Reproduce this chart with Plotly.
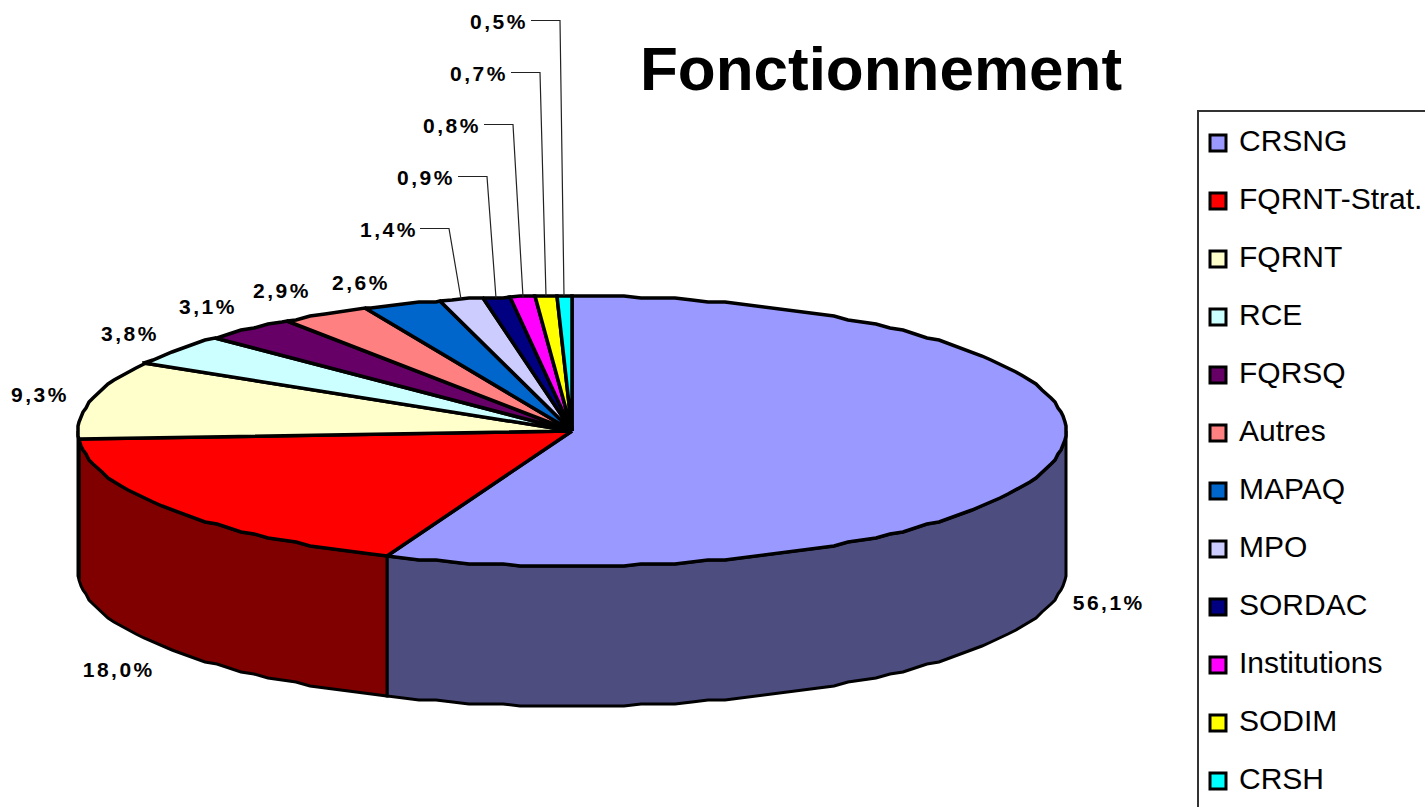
import math
import plotly.graph_objects as go

categories = ["CRSNG", "FQRNT-Strat.", "FQRNT", "RCE", "FQRSQ", "Autres", "MAPAQ",
              "MPO", "SORDAC", "Institutions", "SODIM", "CRSH"]
values = [56.1, 18.0, 9.3, 3.8, 3.1, 2.9, 2.6, 1.4, 0.9, 0.8, 0.7, 0.5]
top_colors = ["#9999FF", "#FF0000", "#FFFFCC", "#CCFFFF", "#660066", "#FF8080", "#0066CC",
              "#CCCCFF", "#000080", "#FF00FF", "#FFFF00", "#00FFFF"]
wall_colors = ["#4D4D80", "#800000", "#808066", "#668080", "#330033", "#804040", "#003366",
               "#666680", "#000040", "#800080", "#808000", "#008080"]

# Layout constants (pixels)
W, H = 1425, 807
CX, CY, RX, RY, DEPTH = 572, 431, 494, 135, 140
STEP_DEG = 2
SNAP = 2
label_pos = [(1109, 602), (119, 669), (40, 394), (130, 333), (208, 306), (282, 290),
             (361, 282), (389, 229), (426, 177), (452, 125), (479, 73), (499, 21)]
leader_elbow = {7: (420, 449, 228.5), 8: (458, 487, 176.5), 9: (484, 513, 124.5),
                10: (511, 540, 72.5), 11: (531, 560, 20.5)}
LEG_TOP, LEG_GAP = 143, 58


def rim(deg, dy=0, snap=1):
    t = math.radians(deg)
    y = CY - RY * math.cos(t)
    return (round(CX + RX * math.sin(t)), round(y / snap) * snap + dy)


def arc(a0, a1, dy=0):
    """Rim points on a shared angular grid, so neighbouring faces trace the same edge."""
    lo, hi = min(a0, a1), max(a0, a1)
    grid = [k * STEP_DEG for k in range(int(lo // STEP_DEG) + 1, int(math.ceil(hi / STEP_DEG)))]
    pts = [rim(lo, dy)] + [rim(a, dy, SNAP) for a in grid] + [rim(hi, dy)]
    return pts if a0 <= a1 else pts[::-1]


# The labels are rounded and add up to 100.1: the small slices absorb the surplus.
rest_scale = (100 - values[0]) / sum(values[1:])
bounds = [0.0, values[0] * 3.6]
for v in values[1:]:
    bounds.append(bounds[-1] + v * rest_scale * 3.6)

fig = go.Figure()


def poly(pts, fill, width=3.5, color="#000000"):
    fig.add_trace(go.Scatter(x=[p[0] for p in pts], y=[p[1] for p in pts], mode="lines",
                             fill="toself", fillcolor=fill,
                             line=dict(color=color, width=width), hoverinfo="skip",
                             showlegend=False))


# Side walls of the visible lower half
for i in range(len(values)):
    a0, a1 = max(bounds[i], 90), min(bounds[i + 1], 270)
    if a1 > a0:
        top = arc(a0, a1)
        poly(top + arc(a1, a0, DEPTH) + [top[0]], wall_colors[i], width=3)

# Top face slices
for i in range(len(values)):
    pts = [(CX, CY)] + arc(bounds[i], bounds[i + 1]) + [(CX, CY)]
    poly(pts, top_colors[i])

# Leader lines, anchored on each slice's mid angle
for i, (x0, x1, y) in leader_elbow.items():
    end = rim((bounds[i] + bounds[i + 1]) / 2)
    fig.add_trace(go.Scatter(x=[x0, x1, end[0]], y=[y, y, end[1]], mode="lines",
                             line=dict(color="#222222", width=1.2), hoverinfo="skip",
                             showlegend=False))

# Legend
leg_y = [LEG_TOP + LEG_GAP * i for i in range(len(categories))]
fig.add_trace(go.Scatter(x=[1218] * len(categories), y=leg_y, mode="markers",
                         marker=dict(symbol="square", size=16, color=top_colors,
                                     line=dict(color="#000000", width=3)),
                         hoverinfo="skip", showlegend=False))
fig.add_trace(go.Scatter(x=[1239] * len(categories), y=leg_y, mode="text",
                         text=categories, textposition="middle right",
                         textfont=dict(family="Liberation Sans", size=30, color="#000000"),
                         hoverinfo="skip", showlegend=False))

annotations = []
for v, (x, y) in zip(values, label_pos):
    annotations.append(dict(x=x, y=y, xref="x", yref="y", showarrow=False,
                            text=f"{v:.1f}%".replace(".", ","),
                            font=dict(family="Liberation Sans", size=21, color="#000000"),
                            xanchor="center", yanchor="middle"))

fig.update_layout(
    width=W, height=H, margin=dict(l=0, r=0, t=0, b=0),
    paper_bgcolor="#FFFFFF", plot_bgcolor="#FFFFFF", showlegend=False,
    xaxis=dict(range=[0, W], visible=False, fixedrange=True),
    yaxis=dict(range=[H, 0], visible=False, fixedrange=True),
    title=dict(text="<b>Fonctionnement</b>", x=881 / W, y=1 - 68 / H,
               xanchor="center", yanchor="middle",
               font=dict(family="Liberation Sans", size=62, color="#000000")),
    annotations=annotations,
    shapes=[dict(type="rect", xref="x", yref="y", x0=1198, y0=111, x1=1460, y1=840,
                 line=dict(color="#333333", width=2), fillcolor="rgba(0,0,0,0)", layer="below")],
)

post = ("document.body.style.margin='0';document.body.style.overflow='hidden';"
        "document.querySelectorAll('.annotation-text').forEach(function(t){"
        "t.style.letterSpacing='2.5px';t.style.fontWeight='bold';});")
fig.write_html("out.html", post_script=post, config={"displayModeBar": False})
